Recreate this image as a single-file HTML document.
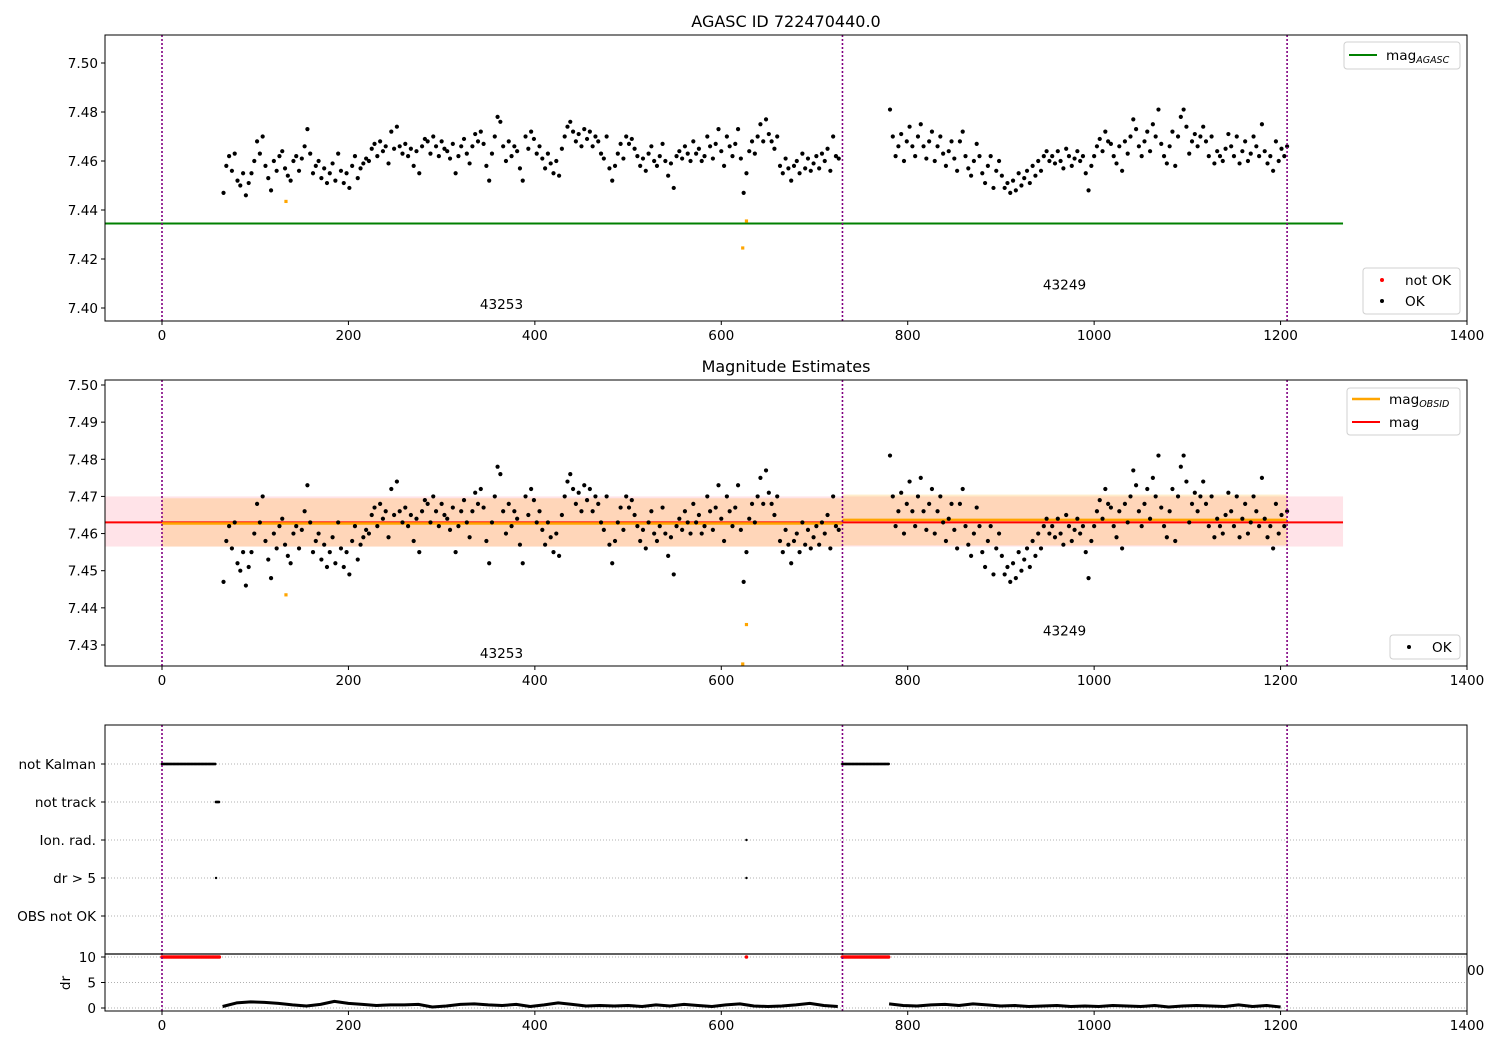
<!DOCTYPE html>
<html><head><meta charset="utf-8">
<style>
html,body{margin:0;padding:0;background:#fff;}
svg{display:block;font-family:"DejaVu Sans","Liberation Sans",sans-serif;}
</style></head>
<body>
<svg id="fig" width="1500" height="1050" viewBox="0 0 1500 1050" xmlns="http://www.w3.org/2000/svg">
<rect width="1500" height="1050" fill="#fff"/>
<defs>
<clipPath id="c1"><rect x="105" y="35" width="1362" height="286"/></clipPath>
<clipPath id="c2"><rect x="105" y="380" width="1362" height="286"/></clipPath>
<clipPath id="c3"><rect x="105" y="725" width="1362" height="286"/></clipPath>
</defs>
<text x="786" y="27" font-size="16" text-anchor="middle">AGASC ID 722470440.0</text>
<text x="786" y="372" font-size="16" text-anchor="middle">Magnitude Estimates</text>
<g id="g1" clip-path="url(#c1)"></g>
<g id="g2" clip-path="url(#c2)"></g>
<g id="g3" clip-path="url(#c3)"></g>
<g id="axes"></g>
</svg>
<script>
// ---- data ----
const seg1Start = 66, seg1Step = 3;
const seg1Mag = [
7.447,7.458,7.462,7.456,7.463,7.452,7.450,7.455,7.446,7.451,
7.455,7.460,7.468,7.463,7.470,7.458,7.453,7.448,7.460,7.456,
7.462,7.464,7.457,7.454,7.452,7.460,7.462,7.456,7.461,7.466,
7.473,7.463,7.455,7.458,7.460,7.453,7.457,7.451,7.455,7.459,
7.452,7.463,7.456,7.451,7.455,7.449,7.458,7.462,7.453,7.457,
7.459,7.461,7.460,7.465,7.467,7.462,7.468,7.464,7.466,7.459,
7.472,7.465,7.474,7.466,7.463,7.467,7.462,7.465,7.458,7.464,
7.455,7.466,7.469,7.468,7.463,7.470,7.466,7.462,7.468,7.465,
7.464,7.461,7.467,7.455,7.462,7.466,7.469,7.463,7.459,7.466,
7.471,7.468,7.472,7.467,7.458,7.452,7.463,7.470,7.478,7.476,
7.466,7.460,7.468,7.462,7.466,7.464,7.457,7.452,7.470,7.465,
7.472,7.469,7.463,7.466,7.461,7.457,7.463,7.459,7.455,7.460,
7.454,7.465,7.470,7.474,7.476,7.472,7.468,7.471,7.466,7.473,
7.469,7.472,7.466,7.470,7.468,7.463,7.461,7.470,7.457,7.452,
7.458,7.463,7.467,7.461,7.470,7.467,7.469,7.465,7.462,7.458,
7.461,7.456,7.463,7.466,7.460,7.458,7.462,7.467,7.460,7.454,
7.459,7.449,7.462,7.464,7.461,7.466,7.463,7.460,7.468,7.463,
7.465,7.460,7.462,7.470,7.466,7.461,7.467,7.473,7.464,7.458,
7.470,7.466,7.462,7.467,7.473,7.461,7.447,7.455,7.464,7.468,
7.463,7.470,7.475,7.468,7.477,7.471,7.468,7.465,7.470,7.458,
7.455,7.461,7.457,7.452,7.458,7.460,7.455,7.463,7.457,7.461,
7.456,7.459,7.462,7.457,7.463,7.460,7.465,7.456,7.470,7.462,
7.461];
const seg2Start = 781, seg2Step = 3;
const seg2Mag = [
7.481,7.470,7.462,7.466,7.471,7.460,7.468,7.474,7.466,7.462,
7.470,7.475,7.466,7.461,7.468,7.472,7.460,7.466,7.470,7.463,
7.458,7.464,7.468,7.461,7.456,7.468,7.472,7.462,7.457,7.454,
7.460,7.467,7.462,7.455,7.451,7.458,7.462,7.449,7.456,7.460,
7.454,7.449,7.451,7.447,7.452,7.448,7.455,7.450,7.453,7.456,
7.451,7.458,7.454,7.460,7.456,7.462,7.464,7.460,7.462,7.459,
7.464,7.460,7.457,7.465,7.462,7.458,7.461,7.464,7.460,7.462,
7.455,7.448,7.458,7.462,7.466,7.469,7.464,7.472,7.468,7.467,
7.462,7.459,7.466,7.456,7.468,7.463,7.470,7.477,7.473,7.466,
7.462,7.468,7.472,7.464,7.475,7.470,7.481,7.467,7.462,7.459,
7.466,7.472,7.458,7.470,7.478,7.481,7.474,7.463,7.468,7.471,
7.466,7.470,7.474,7.468,7.462,7.470,7.459,7.464,7.462,7.460,
7.465,7.471,7.466,7.462,7.470,7.459,7.464,7.468,7.460,7.463,
7.470,7.466,7.462,7.475,7.464,7.459,7.462,7.456,7.468,7.460,
7.465,7.462,7.466];
const badTimes = [133, 627, 623];
const badMags = [7.4435, 7.4355, 7.4245];
const magAgasc = 7.4345;
const magMean = 7.463, magLo = 7.4565, magHi = 7.470;
const obsStarts = [0, 730], obsEnds = [730, 1207];
const obsMags = [7.4627, 7.4637];
const obsLo = [7.4565, 7.4568], obsHi = [7.4695, 7.4705];
const obsIds = ["43253", "43249"];
const obsLabelTimes = [341, 945];
const obsLabelMags1 = [7.3995, 7.4075];
const obsLabelMags2 = [7.4265, 7.4325];
const vlines = [0, 730, 1207];
const xTicks = [0, 200, 400, 600, 800, 1000, 1200, 1400];
const y1Ticks = [7.40, 7.42, 7.44, 7.46, 7.48, 7.50];
const y2Ticks = [7.43, 7.44, 7.45, 7.46, 7.47, 7.48, 7.49, 7.50];
const flagLabels = ["not Kalman", "not track", "Ion. rad.", "dr > 5", "OBS not OK"];
const notKalmanRanges = [[0, 57], [730, 780]];
const notTrackRanges = [[58, 62]];
const ionTimes = [627];
const dr5Times = [58, 627];
const drRedRanges = [[0, 62], [730, 780]];
const drRedTimes = [627];
const drBad = 10;
const dr1Start = 65, dr1Step = 15;
const dr1 = [0.3,1.0,1.2,1.1,0.9,0.6,0.4,0.7,1.3,0.9,0.7,0.5,0.6,0.6,0.7,0.2,0.4,0.7,0.8,0.6,0.5,0.7,0.3,0.6,1.0,0.7,0.4,0.5,0.4,0.5,0.3,0.6,0.4,0.7,0.5,0.3,0.6,0.8,0.4,0.3,0.4,0.6,0.9,0.5,0.3];
const dr2Start = 780, dr2Step = 15;
const dr2 = [0.8,0.5,0.4,0.6,0.7,0.5,0.8,0.6,0.4,0.5,0.3,0.4,0.5,0.3,0.4,0.3,0.5,0.4,0.3,0.5,0.2,0.4,0.5,0.4,0.3,0.6,0.3,0.5,0.2];
const drTicks = [0, 5, 10];

// ---- scales ----
const L = 105, R = 1467;
const X = t => 162 + t * (1305 / 1400);
const Y1 = v => 63 + (7.50 - v) * 2450;
const Y2 = v => 385 + (7.50 - v) * 3714;
const YD = v => 1008 - v * 5.1;
const rowY = i => 764 + i * 38;
const FS = 13.6;

const NS = "http://www.w3.org/2000/svg";
function mk(tag, attrs, parent, txt) {
  const e = document.createElementNS(NS, tag);
  for (const k in attrs) e.setAttribute(k, attrs[k]);
  if (txt !== undefined) e.textContent = txt;
  parent.appendChild(e);
  return e;
}
const g1 = document.getElementById('g1'), g2 = document.getElementById('g2'), g3 = document.getElementById('g3'), ax = document.getElementById('axes');

function allPoints(cb) {
  seg1Mag.forEach((v, i) => cb(seg1Start + i * seg1Step, v));
  seg2Mag.forEach((v, i) => cb(seg2Start + i * seg2Step, v));
}

// ---- panel 1 ----
let e = mk('line', {x1: X(-61), x2: X(1267), y1: Y1(magAgasc), y2: Y1(magAgasc), stroke: '#008000', 'stroke-width': 2}, g1);
 
allPoints((t, v) => {
  const c = mk('circle', {cx: X(t), cy: Y1(v), r: 2.1, fill: '#000'}, g1);
   
});
badTimes.forEach((t, i) => {
  const c = mk('rect', {x: X(t) - 1.6, y: Y1(badMags[i]) - 1.6, width: 3.2, height: 3.2, fill: 'orange'}, g1);
   
});
obsIds.forEach((id, i) => {
  const t = mk('text', {x: X(obsLabelTimes[i]), y: Y1(obsLabelMags1[i]), 'font-size': FS}, g1, id);
   
});

// ---- panel 2 ----
e = mk('rect', {x: X(-61), y: Y2(magHi), width: X(1267) - X(-61), height: Y2(magLo) - Y2(magHi), fill: '#ffc0cb', opacity: 0.45}, g2);
 
obsStarts.forEach((s, i) => {
  const b = mk('rect', {x: X(s), y: Y2(obsHi[i]), width: X(obsEnds[i]) - X(s), height: Y2(obsLo[i]) - Y2(obsHi[i]), fill: '#ffa500', opacity: 0.2}, g2);
   
});
e = mk('line', {x1: X(-61), x2: X(1267), y1: Y2(magMean), y2: Y2(magMean), stroke: 'red', 'stroke-width': 2}, g2);
 
obsStarts.forEach((s, i) => {
  const l = mk('line', {x1: X(s), x2: X(obsEnds[i]), y1: Y2(obsMags[i]), y2: Y2(obsMags[i]), stroke: 'orange', 'stroke-width': 2.5}, g2);
   
});
allPoints((t, v) => {
  const c = mk('circle', {cx: X(t), cy: Y2(v), r: 2.1, fill: '#000'}, g2);
   
});
badTimes.forEach((t, i) => {
  const c = mk('rect', {x: X(t) - 1.6, y: Math.min(Y2(badMags[i]), 664) - 1.6, width: 3.2, height: 3.2, fill: 'orange'}, g2);
   
});
obsIds.forEach((id, i) => {
  const t = mk('text', {x: X(obsLabelTimes[i]), y: Y2(obsLabelMags2[i]), 'font-size': FS}, g2, id);
   
});

// ---- panel 3 ----
flagLabels.forEach((lab, i) => {
  const gl = mk('line', {x1: L, x2: R, y1: rowY(i), y2: rowY(i), stroke: '#b0b0b0', 'stroke-width': 1, 'stroke-dasharray': '1,2'}, g3);
   
});
drTicks.forEach(v => {
  const gl = mk('line', {x1: L, x2: R, y1: YD(v), y2: YD(v), stroke: '#b0b0b0', 'stroke-width': 1, 'stroke-dasharray': '1,2'}, g3);
   
});
function rangeDots(ranges, y, color, r, name) {
  ranges.forEach(([a, b]) => {
    for (let t = a; t <= b; t += 1.5) {
      const c = mk('circle', {cx: X(t), cy: y, r: r, fill: color}, g3);
       
    }
  });
}
function timeDots(times, y, color, r, name) {
  times.forEach(t => {
    const c = mk('circle', {cx: X(t), cy: y, r: r, fill: color}, g3);
     
  });
}
rangeDots(notKalmanRanges, rowY(0), '#000', 1.4, 'not-kalman-flag');
rangeDots(notTrackRanges, rowY(1), '#000', 1.4, 'not-track-flag');
timeDots(ionTimes, rowY(2), '#000', 1.2, 'ion-rad-flag');
timeDots(dr5Times, rowY(3), '#000', 1.2, 'dr-gt-5-flag');
rangeDots(drRedRanges, YD(drBad), 'red', 1.8, 'dr-bad-point');
timeDots(drRedTimes, YD(drBad), 'red', 1.8, 'dr-bad-point');
function drLine(start, step, arr) {
  const pts = arr.map((v, i) => X(start + i * step).toFixed(1) + ',' + YD(v).toFixed(1)).join(' ');
  const p = mk('polyline', {points: pts, fill: 'none', stroke: '#000', 'stroke-width': 3, 'stroke-linejoin': 'round'}, g3);
   
}
drLine(dr1Start, dr1Step, dr1);
drLine(dr2Start, dr2Step, dr2);

// ---- vertical obsid lines ----
[[g1, 35, 321], [g2, 380, 666], [g3, 725, 1011]].forEach(([g, t, b]) => {
  vlines.forEach(v => {
    const l = mk('line', {x1: X(v), x2: X(v), y1: t, y2: b, stroke: 'purple', 'stroke-width': 1.6, 'stroke-dasharray': '2,2'}, g);
     
  });
});

// ---- axes frames & ticks ----
function frame(top, bottom, name) {
  const r = mk('rect', {x: L, y: top, width: R - L, height: bottom - top, fill: 'none', stroke: '#000', 'stroke-width': 1}, ax);
   
  xTicks.forEach(t => {
    mk('line', {x1: X(t), x2: X(t), y1: bottom, y2: bottom + 4, stroke: '#000'}, ax);
    const tx = mk('text', {x: X(t), y: bottom + 19, 'font-size': FS, 'text-anchor': 'middle'}, ax, String(t));
     
  });
}
frame(35, 321, 'top-axes');
frame(380, 666, 'middle-axes');
frame(725, 1011, 'bottom-axes');
function yTicks(ticks, Y, dec) {
  ticks.forEach(v => {
    mk('line', {x1: L - 4, x2: L, y1: Y(v), y2: Y(v), stroke: '#000'}, ax);
    const tx = mk('text', {x: L - 7, y: Y(v) + 5, 'font-size': FS, 'text-anchor': 'end'}, ax, v.toFixed(dec));
     
  });
}
yTicks(y1Ticks, Y1, 2);
yTicks(y2Ticks, Y2, 2);
flagLabels.forEach((lab, i) => {
  mk('line', {x1: L - 4, x2: L, y1: rowY(i), y2: rowY(i), stroke: '#000'}, ax);
  const tx = mk('text', {x: L - 9, y: rowY(i) + 5, 'font-size': FS, 'text-anchor': 'end'}, ax, lab);
   
});
drTicks.forEach(v => {
  mk('line', {x1: L - 4, x2: L, y1: YD(v), y2: YD(v), stroke: '#000'}, ax);
  const tx = mk('text', {x: L - 9, y: YD(v) + 5, 'font-size': FS, 'text-anchor': 'end'}, ax, String(v));
   
});
e = mk('line', {x1: L, x2: R, y1: 954, y2: 954, stroke: '#000', 'stroke-width': 1.2}, ax);
 
e = mk('text', {x: 0, y: 0, 'font-size': FS, 'text-anchor': 'middle', transform: 'translate(70,983) rotate(-90)'}, ax, 'dr');
 
e = mk('text', {x: 1467, y: 975, 'font-size': FS}, ax, '00');
 

// ---- legends ----
function legendBox(x, y, w, h, name) {
  const r = mk('rect', {x: x, y: y, width: w, height: h, rx: 3, fill: '#fff', 'fill-opacity': 0.85, stroke: '#d0d0d0'}, ax);
   
}
function lineEntry(x, y, color, w, label, sub) {
  mk('line', {x1: x, x2: x + 28, y1: y, y2: y, stroke: color, 'stroke-width': w}, ax);
  const t = mk('text', {x: x + 37, y: y + 5, 'font-size': FS}, ax, label);
   
  if (sub) mk('tspan', {'font-size': 9.5, 'font-style': 'italic', dy: 3}, t, sub);
}
function dotEntry(x, y, color, label) {
  mk('circle', {cx: x + 14, cy: y, r: 2, fill: color}, ax);
  const t = mk('text', {x: x + 37, y: y + 5, 'font-size': FS}, ax, label);
   
}
legendBox(1344, 42, 116, 27, 'top-legend');
lineEntry(1349, 55, '#008000', 2, 'mag', 'AGASC');
legendBox(1363, 268, 97, 46, 'top-status-legend');
dotEntry(1368, 280, 'red', 'not OK');
dotEntry(1368, 301, '#000', 'OK');
legendBox(1347, 388, 113, 47, 'middle-legend');
lineEntry(1352, 399, 'orange', 2.5, 'mag', 'OBSID');
lineEntry(1352, 422, 'red', 2, 'mag');
legendBox(1390, 635, 70, 24, 'middle-status-legend');
dotEntry(1395, 647, '#000', 'OK');
</script>
</body></html>
